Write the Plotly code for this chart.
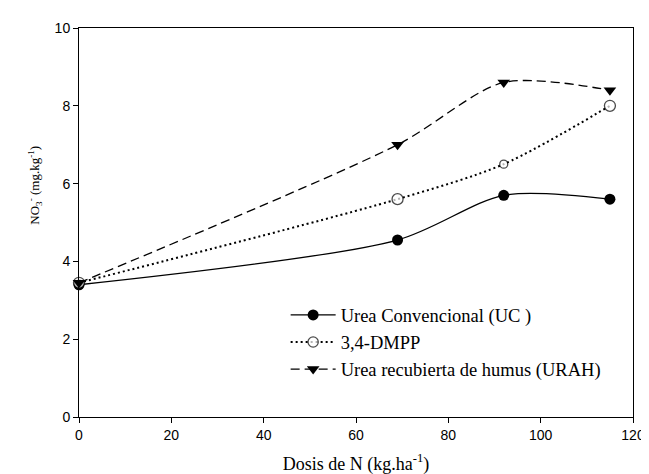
import plotly.graph_objects as go

dosis = [0, 69, 92, 115]
uc = [3.40, 4.55, 5.70, 5.60]
dmpp = [3.45, 5.60, 6.50, 8.00]
urah = [3.45, 7.00, 8.60, 8.40]
x_ticks = [0, 20, 40, 60, 80, 100, 120]
y_ticks = [0, 2, 4, 6, 8, 10]

serif = "Liberation Serif, Times New Roman, serif"

fig = go.Figure()
fig.add_trace(go.Scatter(
    x=dosis, y=uc, name="Urea Convencional (UC )", mode="lines+markers", cliponaxis=False,
    line=dict(color="black", width=1.3, shape="spline", smoothing=0.8),
    marker=dict(symbol="circle", size=11, color="black")))
fig.add_trace(go.Scatter(
    x=dosis, y=dmpp, name="3,4-DMPP", mode="lines+markers", cliponaxis=False,
    line=dict(color="black", width=2, dash="2px,3px", shape="spline", smoothing=0.8),
    marker=dict(symbol="circle", size=[11, 11, 8, 11], color="white",
                line=dict(width=1.3, color="black"))))
fig.add_trace(go.Scatter(
    x=dosis, y=urah, name="Urea recubierta de humus (URAH)", mode="lines+markers", cliponaxis=False,
    line=dict(color="black", width=1.3, dash="9px,5px", shape="spline", smoothing=0.8),
    marker=dict(symbol="triangle-down", size=11, color="black")))

fig.update_layout(
    width=649, height=474,
    margin=dict(l=71, r=13, t=15, b=63),
    paper_bgcolor="white", plot_bgcolor="white",
    font=dict(family="Liberation Sans, Arial", size=14, color="black"),
    showlegend=True,
    legend=dict(x=0.373, y=0.31, xanchor="left", yanchor="top", itemwidth=45,
                font=dict(family=serif, size=18.5, color="black"),
                bgcolor="rgba(0,0,0,0)"),
    xaxis=dict(range=[0, 120], tickvals=x_ticks, showline=True, linecolor="black", linewidth=1,
               mirror=True, ticks="outside", ticklen=5, tickcolor="black", showgrid=False,
               zeroline=False,
               title=dict(text="Dosis de N (kg.ha<sup>-1</sup>)", standoff=15,
                          font=dict(family=serif, size=18))),
    yaxis=dict(range=[0, 10], tickvals=y_ticks, showline=True, linecolor="black", linewidth=1,
               mirror=True, ticks="outside", ticklen=5, tickcolor="black", showgrid=False,
               zeroline=False),
    annotations=[dict(text="NO<sub>3</sub><sup>-</sup> (mg.kg<sup>-1</sup>)", textangle=-90,
                      xref="paper", yref="paper", x=-0.081, y=0.595,
                      xanchor="center", yanchor="middle", showarrow=False,
                      font=dict(family=serif, size=13, color="black"))],
)
fig.write_html("out.html")
